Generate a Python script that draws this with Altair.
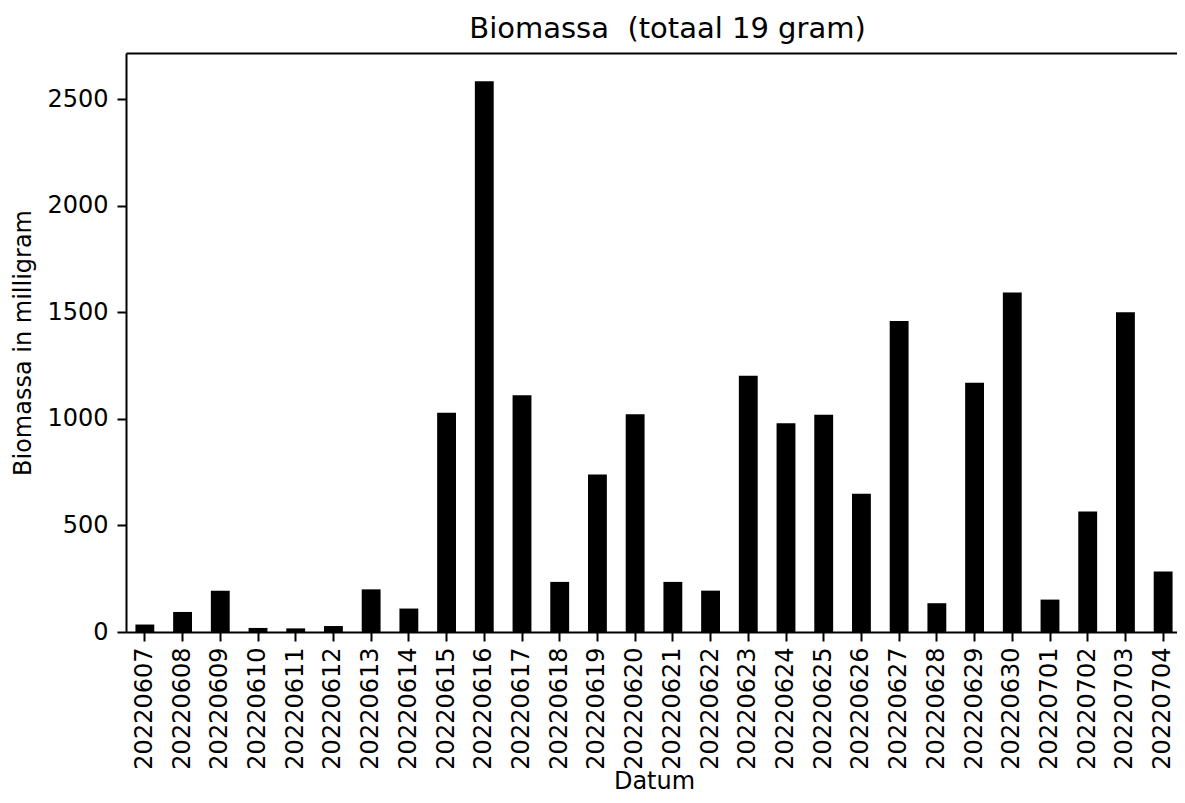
import altair as alt
import pandas as pd

dates = [
    "20220607", "20220608", "20220609", "20220610", "20220611", "20220612",
    "20220613", "20220614", "20220615", "20220616", "20220617", "20220618",
    "20220619", "20220620", "20220621", "20220622", "20220623", "20220624",
    "20220625", "20220626", "20220627", "20220628", "20220629", "20220630",
    "20220701", "20220702", "20220703", "20220704",
]
biomass = [
    35, 94, 193, 19, 17, 28,
    200, 110, 1028, 2584, 1111, 235,
    739, 1021, 235, 194, 1202, 979,
    1019, 648, 1459, 135, 1169, 1592,
    152, 565, 1500, 284,
]
y_ticks = [0, 500, 1000, 1500, 2000, 2500]

df = pd.DataFrame({"Datum": dates, "Biomassa": biomass})

FONT = "DejaVu Sans"

x_scale = alt.Scale(paddingInner=0.5, paddingOuter=0.25, range=[0, 1056])
y_scale = alt.Scale(domain=[0, 2716], nice=False, zero=True)

bars = alt.Chart(df).mark_bar(color="black").encode(
    x=alt.X(
        "Datum:N", sort=None, scale=x_scale,
        axis=alt.Axis(
            orient="bottom", labelAngle=270, labelAlign="right", labelBaseline="middle",
            labelPadding=6, labelFont=FONT, labelFontSize=24, labelColor="black",
            tickSize=9, tickWidth=2, tickColor="black",
            domainColor="black", domainWidth=2,
            title="Datum", titleFont=FONT, titleFontSize=24, titleFontWeight="normal",
            titleColor="black", titlePadding=0,
        ),
    ),
    y=alt.Y(
        "Biomassa:Q", scale=y_scale,
        axis=alt.Axis(
            values=y_ticks, format="d", grid=False,
            labelFont=FONT, labelFontSize=24, labelColor="black", labelPadding=9,
            tickSize=9, tickWidth=2, tickColor="black",
            domainColor="black", domainWidth=2,
            title="Biomassa in milligram", titleFont=FONT, titleFontSize=24,
            titleFontWeight="normal", titleColor="black", titlePadding=11,
        ),
    ),
)

top_spine = alt.Chart(df).mark_bar(opacity=0).encode(
    x=alt.X(
        "Datum:N", sort=None, scale=x_scale,
        axis=alt.Axis(orient="top", labels=False, ticks=False, title=None,
                      domainColor="black", domainWidth=2, minExtent=0, maxExtent=0),
    ),
)

chart = (
    alt.layer(bars, top_spine)
    .resolve_axis(x="independent")
    .properties(
        width=1051,
        height=579,
        title=alt.TitleParams(
            "Biomassa\u00a0 (totaal 19 gram)", font=FONT, fontSize=29,
            fontWeight="normal", color="black", anchor="middle", frame="group",
            baseline="alphabetic", offset=15, dx=16, dy=29,
        ),
        autosize=alt.AutoSizeParams(type="none"),
        padding={"left": 118, "top": 45, "right": 0, "bottom": 163},
    )
    .configure_view(stroke="transparent")
)

chart.save("out.html", embed_options={"renderer": "svg", "actions": False})
